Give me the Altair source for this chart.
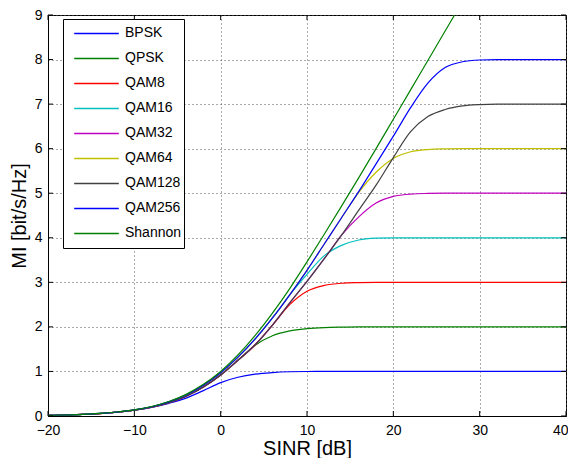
import altair as alt
import pandas as pd

SINR = [-20, -18, -16, -14, -12, -10, -8, -6, -4, -2, 0, 2, 4, 6, 8, 10,
        12, 14, 16, 18, 20, 22, 24, 26, 28, 30, 32, 34, 36, 38, 40]

BPSK = [0.014, 0.023, 0.036, 0.056, 0.087, 0.13, 0.195, 0.285, 0.40, 0.57, 0.75,
        0.87, 0.94, 0.975, 0.993, 0.999,
        1.0, 1.0, 1.0, 1.0, 1.0, 1.0, 1.0, 1.0, 1.0, 1.0, 1.0, 1.0, 1.0, 1.0, 1.0]
QPSK = [0.014, 0.022, 0.035, 0.055, 0.087, 0.132, 0.2, 0.3, 0.445, 0.65, 0.92, 1.25,
        1.59, 1.80, 1.91, 1.96, 1.985, 1.995,
        2.0, 2.0, 2.0, 2.0, 2.0, 2.0, 2.0, 2.0, 2.0, 2.0, 2.0, 2.0, 2.0]
QAM8 = [0.014, 0.022, 0.035, 0.055, 0.087, 0.132, 0.2, 0.3, 0.445, 0.65, 0.92, 1.25, 1.6, 2.04,
        2.5, 2.8, 2.93, 2.98, 2.995,
        3.0, 3.0, 3.0, 3.0, 3.0, 3.0, 3.0, 3.0, 3.0, 3.0, 3.0, 3.0]
QAM16 = [0.014, 0.023, 0.036, 0.057, 0.089, 0.136, 0.208, 0.316, 0.47, 0.69, 0.97, 1.32, 1.73, 2.2, 2.72,
         3.18, 3.6, 3.83, 3.95, 3.99,
         4.0, 4.0, 4.0, 4.0, 4.0, 4.0, 4.0, 4.0, 4.0, 4.0, 4.0]
QAM32 = [0.014, 0.022, 0.035, 0.055, 0.087, 0.132, 0.2, 0.3, 0.445, 0.65, 0.92, 1.25, 1.6, 2.04,
         2.54, 3.02, 3.53, 4.06,
         4.47, 4.78, 4.93, 4.98, 4.995,
         5.0, 5.0, 5.0, 5.0, 5.0, 5.0, 5.0, 5.0]
QAM64 = [0.014, 0.023, 0.036, 0.057, 0.089, 0.136, 0.208, 0.316, 0.47, 0.69, 0.97, 1.32, 1.73, 2.2, 2.72,
         3.27, 3.86, 4.45,
         5.02, 5.47, 5.78, 5.93, 5.98, 5.995,
         6.0, 6.0, 6.0, 6.0, 6.0, 6.0, 6.0]
QAM128 = [0.014, 0.022, 0.035, 0.055, 0.087, 0.132, 0.2, 0.3, 0.445, 0.65, 0.92, 1.25, 1.6, 2.04,
          2.54, 3.02, 3.53, 4.06, 4.62, 5.18,
          5.8, 6.38, 6.72, 6.88, 6.96, 6.99,
          7.0, 7.0, 7.0, 7.0, 7.0]
QAM256 = [0.014, 0.023, 0.036, 0.057, 0.089, 0.136, 0.208, 0.316, 0.47, 0.69, 0.97, 1.32, 1.73, 2.2, 2.72,
          3.27, 3.86, 4.45, 5.04, 5.66, 6.28, 6.92, 7.47, 7.82, 7.95, 7.99,
          8.0, 8.0, 8.0, 8.0, 8.0]
SHANNON = [0.014, 0.023, 0.036, 0.057, 0.090, 0.138, 0.213, 0.325, 0.486, 0.71, 1.0,
           1.37, 1.81, 2.31, 2.86, 3.46, 4.08, 4.71, 5.35, 6.0, 6.66, 7.32, 7.98, 8.64, 9.3]

NAMES = ["BPSK", "QPSK", "QAM8", "QAM16", "QAM32", "QAM64", "QAM128", "QAM256", "Shannon"]
COLORS = ["#0000ff", "#008000", "#ff0000", "#00bfbf", "#bf00bf", "#bfbf00", "#404040", "#0000ff", "#008000"]
SERIES = [BPSK, QPSK, QAM8, QAM16, QAM32, QAM64, QAM128, QAM256, SHANNON]

X_TICKS = [-20, -10, 0, 10, 20, 30, 40]
Y_TICKS = [0, 1, 2, 3, 4, 5, 6, 7, 8, 9]

rows = []
for name, vals in zip(NAMES, SERIES):
    for x, v in zip(SINR, vals):
        rows.append({"SINR": x, "MI": v, "series": name})
df = pd.DataFrame(rows)

W, H = 518, 401
FONT = "Liberation Sans"

xscale = alt.Scale(domain=[-20, 40], nice=False, zero=False)
yscale = alt.Scale(domain=[0, 9], nice=False, zero=False)

lines = alt.Chart(df).mark_line(strokeWidth=1.2, clip=True, interpolate="monotone").encode(
    x=alt.X("SINR:Q", scale=xscale,
            axis=alt.Axis(values=X_TICKS, grid=True, gridDash=[1, 3], gridColor="#555",
                          gridOpacity=1, ticks=False, tickSize=0, labelPadding=7,
                          labelFlush=False,
                          labelAlign={"expr": "datum.value == 40 ? 'right' : 'center'"},
                          labelOffset={"expr": "datum.value == 40 ? 2 : 0"},
                          labelFontSize=14, labelFont=FONT, labelColor="black",
                          labelExpr="replace(datum.label, '-', '\u2212')",
                          domainColor="black", title="SINR [dB]", titleFont=FONT,
                          titleFontSize=20, titleFontWeight="normal", titleColor="black",
                          titleY=38, titleBaseline="alphabetic")),
    y=alt.Y("MI:Q", scale=yscale,
            axis=alt.Axis(values=Y_TICKS, grid=True, gridDash=[1, 3], gridColor="#555",
                          gridOpacity=1, ticks=False, tickSize=0, labelPadding=6,
                          labelFontSize=14, labelFont=FONT, labelColor="black",
                          domainColor="black", title="MI [bit/s/Hz]", titleFont=FONT,
                          titleFontSize=20, titleFontWeight="normal", titleColor="black",
                          titleX=-29, titleY=H / 2, titleAngle=270, titleBaseline="middle",
                          titleAlign="center")),
    color=alt.Color("series:N", scale=alt.Scale(domain=NAMES, range=COLORS),
                    legend=alt.Legend(title=None, orient="none", legendX=15, legendY=4,
                                      symbolType="stroke", symbolSize=1990, symbolStrokeWidth=1.5,
                                      symbolOffset=8, labelOffset=5, padding=2, clipHeight=24.9,
                                      rowPadding=0, labelFont=FONT, labelFontSize=14,
                                      labelColor="black", strokeColor="black", fillColor="white",
                                      labelExpr="datum.label + '\u00a0\u00a0'")),
)

xt = pd.DataFrame({"t": X_TICKS})
yt = pd.DataFrame({"t": Y_TICKS})
tb = alt.Chart(xt).mark_rule(color="black", strokeWidth=1).encode(
    x=alt.X("t:Q", scale=xscale), y=alt.value(H), y2=alt.value(H - 5))
tt = alt.Chart(xt).mark_rule(color="black", strokeWidth=1).encode(
    x=alt.X("t:Q", scale=xscale), y=alt.value(0), y2=alt.value(5))
tl = alt.Chart(yt).mark_rule(color="black", strokeWidth=1).encode(
    y=alt.Y("t:Q", scale=yscale), x=alt.value(0), x2=alt.value(5))
tr = alt.Chart(yt).mark_rule(color="black", strokeWidth=1).encode(
    y=alt.Y("t:Q", scale=yscale), x=alt.value(W), x2=alt.value(W - 5))

chart = alt.layer(lines, tb, tt, tl, tr).properties(
    width=W, height=H,
    autosize=alt.AutoSizeParams(type="none"),
    padding={"left": 40, "top": 7, "right": 2, "bottom": 42},
    background="white",
).configure_view(stroke="black", strokeWidth=1)

chart.save("out.html", embed_options={"renderer": "svg", "actions": False})
